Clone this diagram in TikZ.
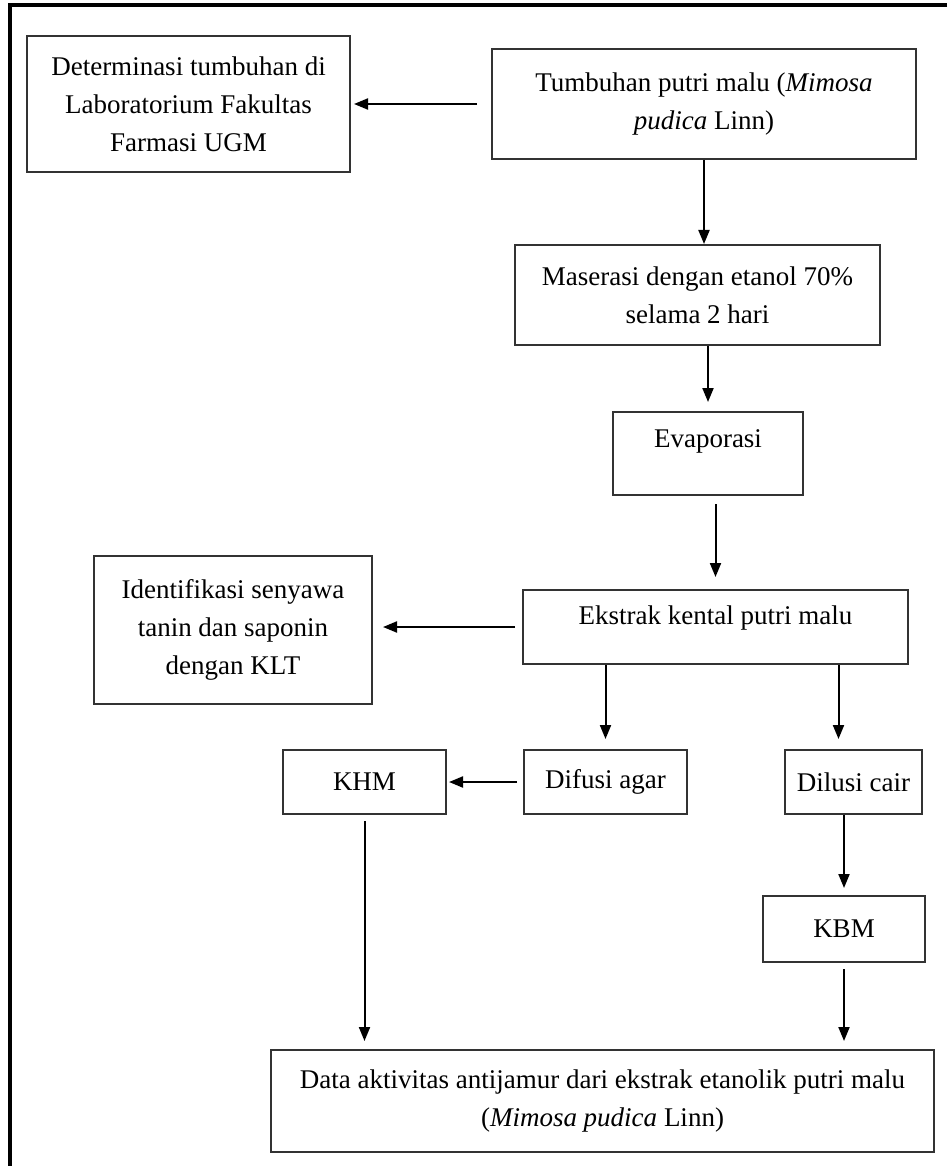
\documentclass[tikz,border=0pt]{standalone}
\usepackage{fontspec}
\setmainfont{Liberation Serif}
\usetikzlibrary{arrows.meta,calc}

\tikzset{
  kotak/.style={draw=black!80, line width=1pt, inner sep=0pt, align=center,
    font=\fontsize{13.5}{19}\selectfont},
  panah/.style={-{Triangle[length=7pt,width=5.5pt]}, line width=1pt},
}

\begin{document}
\begin{tikzpicture}[x=0.5pt,y=-0.5pt]
\useasboundingbox (0,0) rectangle (947,1166);
\draw [line width=2pt] (947,5) -- (10,5) -- (10,1166);

\node [kotak, minimum width=161.5pt, minimum height=68pt] (determinasi) at (188.5,104) {Determinasi tumbuhan di\\Laboratorium Fakultas\\Farmasi UGM};
\node [kotak, minimum width=212pt, minimum height=55pt] (tumbuhan) at (704,104) {Tumbuhan putri malu (\textit{Mimosa}\\\textit{pudica} Linn)};
\node [kotak, minimum width=182.5pt, minimum height=50pt] (maserasi) at (697.5,295) {Maserasi dengan etanol 70\%\\selama 2 hari};
\node [kotak, minimum width=95pt, minimum height=41.5pt, text depth=14.5pt] (evaporasi) at (708,453.5) {Evaporasi};
\node [kotak, minimum width=192.5pt, minimum height=37pt, text depth=12pt] (ekstrak) at (715.5,627) {Ekstrak kental putri malu};
\node [kotak, minimum width=139pt, minimum height=74pt] (identifikasi) at (233,630) {Identifikasi senyawa\\tanin dan saponin\\dengan KLT};
\node [kotak, minimum width=81.5pt, minimum height=32pt] (difusi) at (605.5,782) {Difusi agar};
\node [kotak, minimum width=81.5pt, minimum height=32pt] (khm) at (364.5,782) {KHM};
\node [kotak, minimum width=68.5pt, minimum height=32pt] (dilusi) at (853.5,782) {Dilusi cair};
\node [kotak, minimum width=81pt, minimum height=33pt] (kbm) at (844,929) {KBM};
\node [kotak, minimum width=331.5pt, minimum height=51pt] (data) at (602.5,1101) {Data aktivitas antijamur dari ekstrak etanolik putri malu\\(\textit{Mimosa pudica} Linn)};

\coordinate (kedilusi) at ($(dilusi.north)+(-15,0)$);

\draw [panah, shorten <=7pt, shorten >=1.5pt] (tumbuhan.west) -- (determinasi.east);
\draw [panah] (tumbuhan.south) -- (tumbuhan.south |- maserasi.north);
\draw [panah, shorten >=4.5pt] (evaporasi.north |- maserasi.south) -- (evaporasi.north);
\draw [panah, shorten <=4pt, shorten >=6pt] (ekstrak.north |- evaporasi.south) -- (ekstrak.north);
\draw [panah, shorten <=3.5pt, shorten >=5pt] (ekstrak.west) -- (identifikasi.east |- ekstrak.west);
\draw [panah, shorten >=5pt] (difusi.north |- ekstrak.south) -- (difusi.north);
\draw [panah, shorten >=5pt] (kedilusi |- ekstrak.south) -- (kedilusi);
\draw [panah, shorten <=3pt, shorten >=1pt] (difusi.west) -- (khm.east);
\draw [panah, shorten >=3.5pt] (kbm.north |- dilusi.south) -- (kbm.north);
\draw [panah, shorten <=3pt, shorten >=4pt] (kbm.south) -- (kbm.south |- data.north);
\draw [panah, shorten <=3pt, shorten >=4pt] (khm.south) -- (khm.south |- data.north);
\end{tikzpicture}
\end{document}
